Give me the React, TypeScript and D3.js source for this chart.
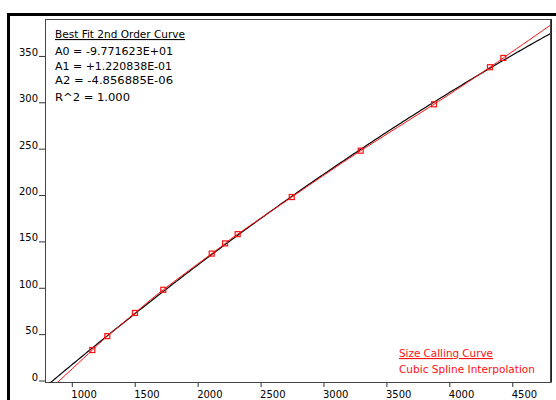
import React from "react";
import * as d3 from "d3";

// Size standard (bp) vs. scan number of the observed peaks
const sizes = [35, 50, 75, 100, 139, 150, 160, 200, 250, 300, 340, 350];
const scans = [1159, 1278, 1498, 1723, 2108, 2214, 2314, 2744, 3292, 3874, 4319, 4425];

// Best fit 2nd order curve coefficients
const A0 = -9.771623e1;
const A1 = 1.220838e-1;
const A2 = -4.856885e-6;
const fitLines = [
  "A0 = -9.771623E+01",
  "A1 = +1.220838E-01",
  "A2 = -4.856885E-06",
  "R^2 = 1.000",
];

const xTicks = [1000, 1500, 2000, 2500, 3000, 3500, 4000, 4500];
const yTicks = [0, 50, 100, 150, 200, 250, 300, 350];

const W = 556;
const H = 400;
const left = 45, right = 550, top = 19, bottom = 382.5;

export default function App() {
  const x = d3.scaleLinear().domain([783, 4796]).range([left, right]);
  const y = d3.scaleLinear().domain([0, 392]).range([bottom, top]);

  const fit = (s: number) => A0 + A1 * s + A2 * s * s;
  const [xmin, xmax] = x.domain();
  const samples = d3.range(0, 201).map((i) => xmin + ((xmax - xmin) * i) / 200);
  const fitPath = d3
    .line<number>()
    .x((s) => x(s))
    .y((s) => y(fit(s)))(samples) as string;

  const pts = scans.map((s, i) => [s, sizes[i]] as [number, number]);
  const n = pts.length;
  const s0 = (pts[1][1] - pts[0][1]) / (pts[1][0] - pts[0][0]);
  const s1 = (pts[n - 1][1] - pts[n - 2][1]) / (pts[n - 1][0] - pts[n - 2][0]);
  const ext: [number, number][] = [
    [xmin, pts[0][1] - s0 * (pts[0][0] - xmin)],
    ...pts,
    [xmax, pts[n - 1][1] + s1 * (xmax - pts[n - 1][0])],
  ];
  const splinePath = d3
    .line<[number, number]>()
    .x((d) => x(d[0]))
    .y((d) => y(d[1]))
    .curve(d3.curveNatural)(ext) as string;

  const font = "'DejaVu Sans', Verdana, sans-serif";
  const red = "#ff1010";

  return (
    <svg
      width={W}
      height={H}
      style={{ position: "fixed", left: 0, top: 0, display: "block", background: "#fff" }}
    >
      <defs>
        <clipPath id="plot">
          <rect x={left} y={top} width={right - left} height={bottom - top} />
        </clipPath>
      </defs>
      {/* outer window frame */}
      <path d={`M8.5,${H} L8.5,14.5 L${W},14.5`} fill="none" stroke="#000" strokeWidth={3} />

      {/* plot box */}
      <rect
        x={left + 0.5}
        y={top + 0.5}
        width={right - left}
        height={bottom - top - 0.5}
        fill="none"
        stroke="#444"
        strokeWidth={1}
      />
      <line x1={right + 1.5} x2={right + 1.5} y1={top} y2={bottom} stroke="#222" strokeWidth={1} />

      {/* y axis ticks */}
      {yTicks.map((v) => (
        <g key={"y" + v}>
          <line x1={39} x2={left} y1={y(v) - 1.5} y2={y(v) - 1.5} stroke="#333" strokeWidth={1} />
          <text
            x={38}
            y={y(v) - 2}
            textAnchor="end"
            fontFamily={font}
            fontSize={10}
            fill="#000"
          >
            {v}
          </text>
        </g>
      ))}

      {/* x axis ticks */}
      {xTicks.map((v) => (
        <g key={"x" + v}>
          <line x1={x(v)} x2={x(v)} y1={bottom} y2={bottom + 4.5} stroke="#333" strokeWidth={1} />
          <text x={x(v) - 1} y={398} fontFamily={font} fontSize={10} fill="#000">
            {v}
          </text>
        </g>
      ))}

      <g clipPath="url(#plot)">
        <path d={fitPath} fill="none" stroke="#000" strokeWidth={1.2} />
        <path d={splinePath} fill="none" stroke={red} strokeWidth={1} />
        {pts.map((d, i) => (
          <rect
            key={"p" + i}
            x={x(d[0]) - 2.5}
            y={y(d[1]) - 2.5}
            width={5}
            height={5}
            fill="none"
            stroke={red}
            strokeWidth={1.2}
          />
        ))}
      </g>

      {/* fit box text */}
      <text
        x={55}
        y={38}
        fontFamily={font}
        fontSize={11}
        textDecoration="underline"
        textLength={130}
        lengthAdjust="spacingAndGlyphs"
        fill="#000"
      >
        Best Fit 2nd Order Curve
      </text>
      {fitLines.map((t, i) => (
        <text
          key={t}
          x={55}
          y={[55, 70, 84, 101][i]}
          fontFamily={font}
          fontSize={11}
          textLength={[118, 117, 118, 75][i]}
          lengthAdjust="spacingAndGlyphs"
          fill="#000"
        >
          {t}
        </text>
      ))}

      {/* legend */}
      <text
        x={399}
        y={357}
        fontFamily={font}
        fontSize={11}
        fill={red}
        textDecoration="underline"
        textLength={94}
        lengthAdjust="spacingAndGlyphs"
      >
        Size Calling Curve
      </text>
      <text
        x={399}
        y={372.5}
        fontFamily={font}
        fontSize={11}
        fill={red}
        textLength={136}
        lengthAdjust="spacingAndGlyphs"
      >
        Cubic Spline Interpolation
      </text>
    </svg>
  );
}
